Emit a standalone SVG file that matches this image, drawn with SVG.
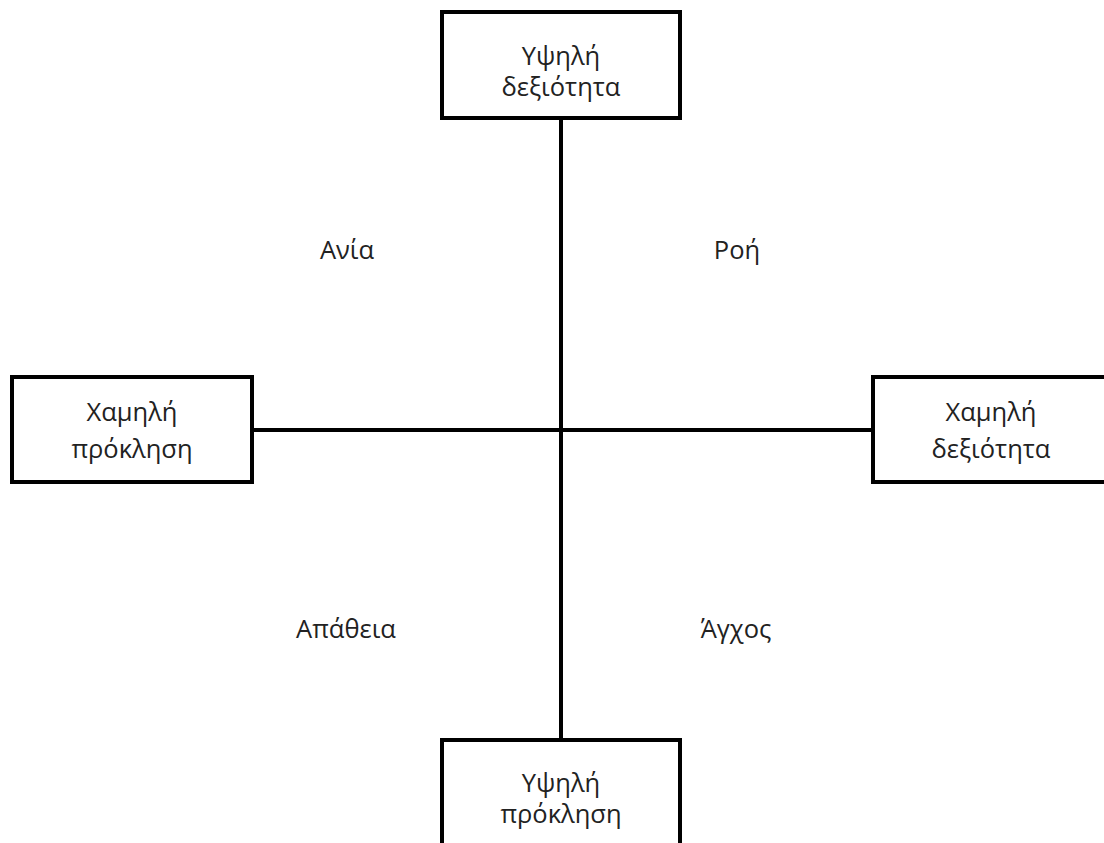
<svg xmlns="http://www.w3.org/2000/svg" width="1104" height="843" viewBox="0 0 1104 843">
<style>
.box{fill:#fff;stroke:#000;stroke-width:4}
.ln{stroke:#000;stroke-width:4;fill:none}
text{font-family:"Open Sans","Noto Sans","DejaVu Sans",sans-serif;font-size:25.5px;fill:#222;text-anchor:middle}
</style>
<rect width="1104" height="843" fill="#fff"/>
<g id="connectors">
<line class="ln" x1="561" y1="118" x2="561" y2="740"/>
<line class="ln" x1="252" y1="430" x2="873" y2="430"/>
</g>
<g id="n-top">
<rect class="box" x="442" y="12" width="238" height="106"/>
<text x="561" y="65">Υψηλή</text>
<text x="561" y="96">δεξιότητα</text>
</g>
<g id="n-left">
<rect class="box" x="12" y="377" width="240" height="105"/>
<text x="132" y="421">Χαμηλή</text>
<text x="132" y="458">πρόκληση</text>
</g>
<g id="n-right">
<rect class="box" x="873" y="377" width="240" height="105"/>
<text x="991" y="421">Χαμηλή</text>
<text x="991" y="458">δεξιότητα</text>
</g>
<g id="n-bottom">
<rect class="box" x="442" y="740" width="238" height="110"/>
<text x="561" y="792">Υψηλή</text>
<text x="561" y="823">πρόκληση</text>
</g>
<g id="labels">
<text x="347" y="259">Ανία</text>
<text x="737" y="259">Ροή</text>
<text x="346" y="638">Απάθεια</text>
<text x="736" y="638">Άγχος</text>
</g>
</svg>
